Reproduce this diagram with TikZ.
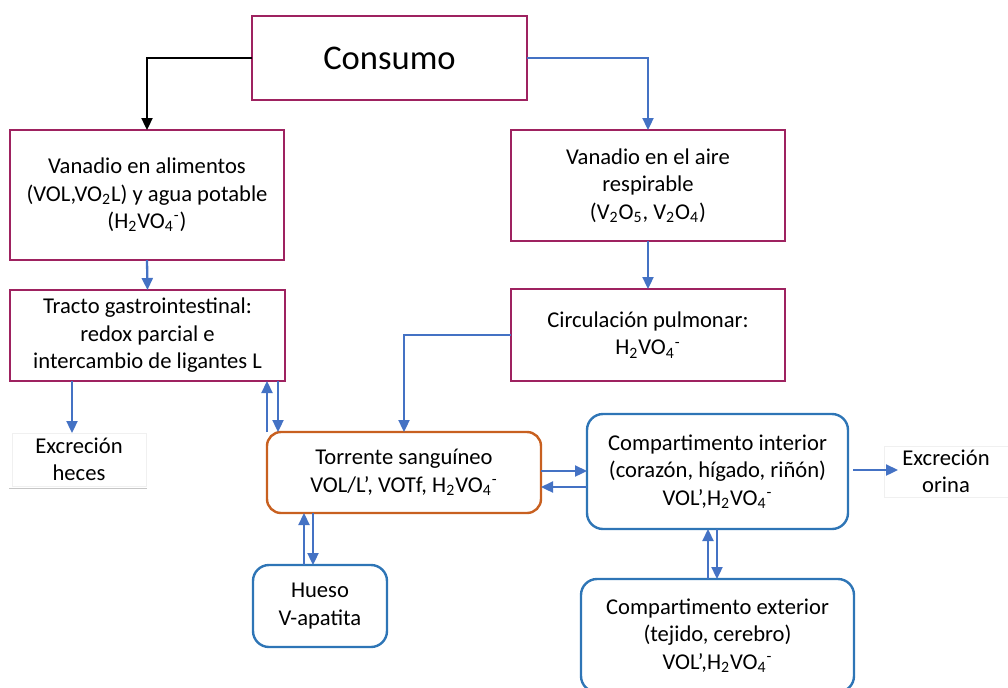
\documentclass[tikz,border=0pt]{standalone}
\usepackage{fontspec}
\setmainfont{Carlito}
\usetikzlibrary{arrows.meta}
\definecolor{boxred}{RGB}{158,34,96}
\definecolor{flowblue}{RGB}{68,114,196}
\definecolor{bloodorange}{RGB}{200,96,32}
\definecolor{compblue}{RGB}{46,117,182}
\newcommand{\vanadato}{H\textsubscript{2}VO\textsubscript{4}\textsuperscript{-}}

\begin{document}
\begin{tikzpicture}[x=0.5pt,y=-0.5pt,
    font=\fontsize{11.3}{13.75}\selectfont,
    source/.style={draw=boxred,line width=1.2pt,align=center,inner sep=0pt,outer sep=0pt},
    blood/.style={draw=bloodorange,line width=1.2pt,rounded corners=7pt,align=center,inner sep=0pt,outer sep=0pt},
    organ/.style={draw=compblue,line width=1.2pt,rounded corners=8pt,align=center,inner sep=0pt,outer sep=0pt},
    sink/.style={draw=gray!12,line width=0.4pt,align=center,inner sep=0pt,outer sep=0pt},
    flow/.style={draw=flowblue,line width=1.15pt,-{Triangle[width=5.5pt,length=6pt]}},
    firstflow/.style={draw=black,line width=1.15pt,-{Triangle[width=5.5pt,length=6pt]}}]
    \useasboundingbox (0,0) rectangle (1008,687);
    % sources of vanadium
    \node[source,minimum width=137.5pt,minimum height=42pt,font=\fontsize{17.3}{20}\selectfont] (consumo) at (389.5,58) {Consumo};
    \node[source,minimum width=137pt,minimum height=65pt] (alim) at (147,195) {Vanadio en alimentos\\(VOL,VO\textsubscript{2}L) y agua potable\\(\vanadato)};
    \node[source,minimum width=137pt,minimum height=55.5pt] (aire) at (648,185.5) {Vanadio en el aire\\respirable\\(V\textsubscript{2}O\textsubscript{5}, V\textsubscript{2}O\textsubscript{4})};
    \node[source,minimum width=137.5pt,minimum height=45.5pt] (tracto) at (147.5,335.5) {Tracto gastrointestinal:\\redox parcial e\\intercambio de ligantes L};
    \node[source,minimum width=137pt,minimum height=46pt] (pulmon) at (648,335) {Circulación pulmonar:\\\vanadato};
    % blood and compartments
    \node[blood,minimum width=137pt,minimum height=40.5pt] (torrente) at (404,472.5) {Torrente sanguíneo\\VOL/L’, VOTf, \vanadato};
    \node[organ,minimum width=130.5pt,minimum height=57.5pt] (interior) at (717.5,471.5) {Compartimento interior\\(corazón, hígado, riñón)\\VOL’,\vanadato};
    \node[organ,minimum width=67pt,minimum height=41pt] (hueso) at (320,606) {Hueso\\V-apatita};
    \node[organ,minimum width=136.5pt,minimum height=56.5pt] (exterior) at (717.5,635.5) {Compartimento exterior\\(tejido, cerebro)\\VOL’,\vanadato};
    % excretion
    \node[sink,minimum width=67pt,minimum height=26.5pt] (heces) at (79,459.5) {Excreción\\heces};
    \draw[gray!45,line width=0.4pt] ([xshift=-1.5pt,yshift=-1pt]heces.south west) -- ([xshift=0.5pt,yshift=-1pt]heces.south east);
    \node[sink,minimum width=62pt,minimum height=25.5pt] (orina) at (946,471.5) {Excreción\\orina};
    % from Consumo to the two sources
    \draw[firstflow] (consumo.west) -| (alim.north);
    \draw[flow] (consumo.east) -| (aire.north);
    % down each column
    \draw[flow] (alim.south) -- (tracto.north);
    \draw[flow] (aire.south) -- (pulmon.north);
    % lungs to blood
    \draw[flow] (pulmon.west) -| (torrente.north);
    % gut to faeces
    \draw[flow] ([xshift=-3.5pt]heces.north |- tracto.south) -- ([xshift=-3.5pt]heces.north);
    % gut and blood, both ways
    \draw[flow] ([xshift=0pt]torrente.north west) -- ([xshift=0pt]torrente.north west |- tracto.south);
    \draw[flow] ([xshift=5.5pt]torrente.north west |- tracto.south) -- ([xshift=5.5pt]torrente.north west);
    % blood and inner compartment, both ways
    \draw[flow] ([yshift=0.75pt]torrente.east) -- ([yshift=0.75pt]torrente.east -| interior.west);
    \draw[flow] ([yshift=-7.25pt]torrente.east -| interior.west) -- ([yshift=-7.25pt]torrente.east);
    % inner compartment to urine
    \draw[flow] ([xshift=2.5pt,yshift=0.75pt]interior.east) -- ([xshift=7pt,yshift=0.75pt]orina.west);
    % blood and bone, both ways
    \draw[flow] ([xshift=-8pt]hueso.north) -- ([xshift=-8pt]hueso.north |- torrente.south);
    \draw[flow] ([xshift=-3.5pt]hueso.north |- torrente.south) -- ([xshift=-3.5pt]hueso.north);
    % inner and outer compartment, both ways
    \draw[flow] ([xshift=-4.75pt]exterior.north) -- ([xshift=-4.75pt]exterior.north |- interior.south);
    \draw[flow] ([xshift=-0.25pt]exterior.north |- interior.south) -- ([xshift=-0.25pt]exterior.north);
\end{tikzpicture}
\end{document}
